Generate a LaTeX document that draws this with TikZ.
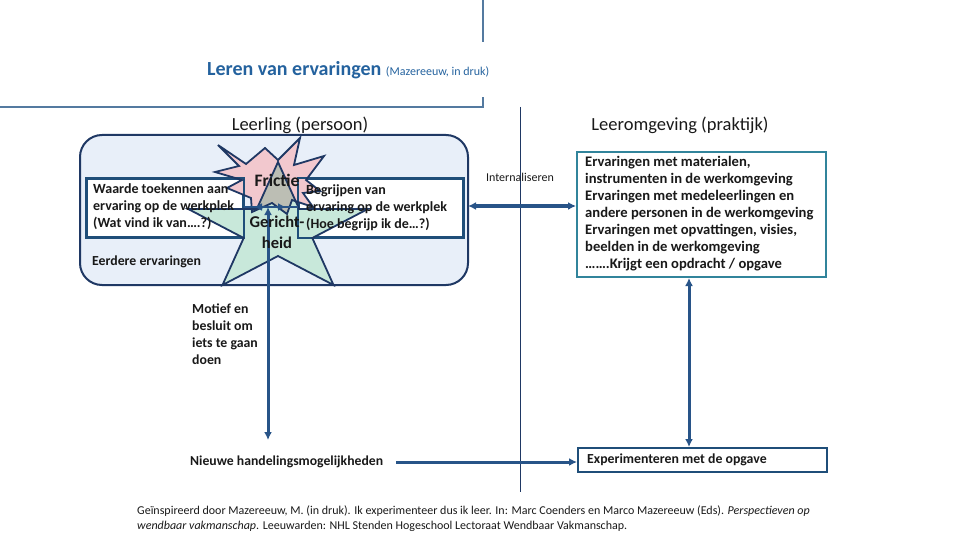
\documentclass[tikz,border=0pt]{standalone}
\usepackage{fontspec}
\setmainfont{Carlito}
\usetikzlibrary{arrows.meta}
\definecolor{navy}{RGB}{31,56,100}
\definecolor{arrblue}{RGB}{40,84,136}
\definecolor{boxblue}{RGB}{31,78,121}
\definecolor{tealc}{RGB}{49,132,155}
\definecolor{headc}{RGB}{84,122,160}
\definecolor{titleblue}{RGB}{36,98,158}
\definecolor{panelfill}{RGB}{232,239,249}
\definecolor{pinkc}{RGB}{242,200,206}
\definecolor{greenc}{RGB}{200,232,218}
\definecolor{grayc}{RGB}{188,190,180}
\definecolor{txtc}{RGB}{25,25,25}
\begin{document}
\begin{tikzpicture}[x=1pt,y=-1pt,
  boxline/.style={draw=boxblue,line width=2pt},
  whitebox/.style={boxline,fill=white,inner sep=0,minimum width=#1},
  arr/.style={draw=arrblue,line width=3pt,{Latex[length=8pt,width=8pt]}-{Latex[length=8pt,width=8pt]}},
  arrone/.style={draw=arrblue,line width=3pt,-{Latex[length=8pt,width=8pt]}},
  starline/.style={draw=navy,line width=1.8pt,line join=miter},
  boldtxt/.style={inner sep=0,font=\fontsize{14}{17}\selectfont\bfseries,text=txtc,align=left},
  plaintxt/.style={inner sep=0,text=txtc}]
\useasboundingbox (0,0) rectangle (960,540);

% header lines
\draw[headc,line width=1.5pt] (483,0) -- (483,42);
\draw[headc,line width=1.5pt] (0,107) -- (483,107) -- (483,97);

\node[plaintxt,anchor=base west] (title) at (207,75.5)
  {\fontsize{20}{22}\selectfont\bfseries\color{titleblue}Leren van ervaringen\ \fontsize{12}{14}\selectfont\mdseries(Mazereeuw, in druk)};

\node[plaintxt,font=\fontsize{18.5}{20}\selectfont] (leerling) at (300,125) {Leerling (persoon)};
\node[plaintxt,font=\fontsize{18.5}{20}\selectfont] (omgeving) at (680,125) {Leeromgeving (praktijk)};

% divider
\draw[navy,line width=1pt] (520,107) -- (520,492);

% panel
\draw[navy,line width=2pt,fill=panelfill,rounded corners=22pt] (80,135) rectangle (468,285);

% boxes
\node[whitebox=156pt,minimum height=58pt] (lbox) at (165,208) {};
\node[whitebox=164pt,minimum height=58pt] (rbox) at (381,208) {};

% star shapes
\def\greenstar{(278,162) -- (299.2,209) -- (367.8,209) -- (312.3,238) -- (333.5,285) -- (278,256) -- (222.5,285) -- (243.7,238) -- (188.2,209) -- (256.8,209) -- cycle}
\def\pinkburst{(218,145) -- (246,164) -- (265,148) -- (278,160) -- (300,138) -- (294,165) -- (324,156) -- (306,180) -- (320,191) -- (303,193) -- (313,207) -- (292,200) -- (287,214) -- (272,203) -- (252,212) -- (251,198) -- (227,188) -- (242,180) -- (215,172) -- (239,166) -- cycle}
\fill[greenc] \greenstar;
\fill[pinkc] \pinkburst;
\begin{scope}
  \clip \pinkburst;
  \fill[grayc] \greenstar;
\end{scope}
\draw[boxline] (lbox.north west) rectangle (lbox.south east);
\draw[boxline] (rbox.north west) rectangle (rbox.south east);
\draw[starline] \pinkburst;
\draw[starline] \greenstar;

% inner arrows
\coordinate (hub) at (268,207);
\coordinate (hl) at (254,207);
\coordinate (hr) at (286,207);
\coordinate (down) at (268,440);
\draw[draw=arrblue,line width=2.6pt] (lbox.east |- hub) -- (rbox.west |- hub);
\draw[arr,line width=2.6pt] (hl) -- (hr);
\draw[arr] (hub) -- (down);

% texts in panel
\node[boldtxt,anchor=north west] (ltext) at (93,183.5) {Waarde toekennen aan\\ervaring op de werkplek\\(Wat vind ik van….?)};
\node[boldtxt,anchor=north west] (rtext) at (306,184.5) {Begrijpen van\\ervaring op de werkplek\\(Hoe begrijp ik de…?)};
\node[plaintxt,font=\fontsize{17.5}{19}\selectfont\bfseries] (frictie) at (277,180) {Frictie};
\node[plaintxt,font=\fontsize{16.5}{20.5}\selectfont\bfseries,align=center] (gericht) at (277,232.5) {Gericht-\\heid};
\node[boldtxt,anchor=west,font=\fontsize{13.8}{17}\selectfont\bfseries] (eerdere) at (92,262) {Eerdere ervaringen};

% right side
\node[draw=tealc,line width=2pt,fill=white,minimum width=249pt,minimum height=125pt,inner sep=0] (envbox) at (701.5,214.5) {};
\node[boldtxt,anchor=north west,font=\fontsize{14.6}{17}\selectfont\bfseries] (envtext) at (585,156) {Ervaringen met materialen,\\instrumenten in de werkomgeving\\Ervaringen met medeleerlingen en\\andere personen in de werkomgeving\\Ervaringen met opvattingen, visies,\\beelden in de werkomgeving\\…….Krijgt een opdracht / opgave};
\node[plaintxt,font=\fontsize{12}{14}\selectfont] (intern) at (520,177) {Internaliseren};
\draw[arr,line width=4pt] (468,206) -- (envbox.west |- 0,206);

\node[whitebox=249pt,minimum height=24pt] (expbox) at (702.5,460) {};
\node[boldtxt,anchor=west,font=\fontsize{13.8}{17}\selectfont\bfseries] (exptext) at (587,460) {Experimenteren met de opgave};
\draw[arr] (envbox.south -| 689,0) -- (expbox.north -| 689,0);

% lower left
\node[boldtxt,anchor=north west,font=\fontsize{13.8}{17}\selectfont\bfseries] (motief) at (192,304) {Motief en\\besluit om\\iets te gaan\\doen};
\node[boldtxt,anchor=west,font=\fontsize{13.7}{17}\selectfont\bfseries] (nieuwe) at (190,462) {Nieuwe handelingsmogelijkheden};
\draw[arrone] (396,462) -- (expbox.west |- 0,462);

% footer
\node[plaintxt,anchor=north west,align=left,font=\fontsize{12}{15}\selectfont] (footer) at (137,506)
 {Geïnspireerd door Mazereeuw, M. (in druk). Ik experimenteer dus ik leer. In: Marc Coenders en Marco Mazereeuw (Eds). \textit{Perspectieven op}\\\textit{wendbaar vakmanschap}. Leeuwarden: NHL Stenden Hogeschool Lectoraat Wendbaar Vakmanschap.};
\end{tikzpicture}
\end{document}
